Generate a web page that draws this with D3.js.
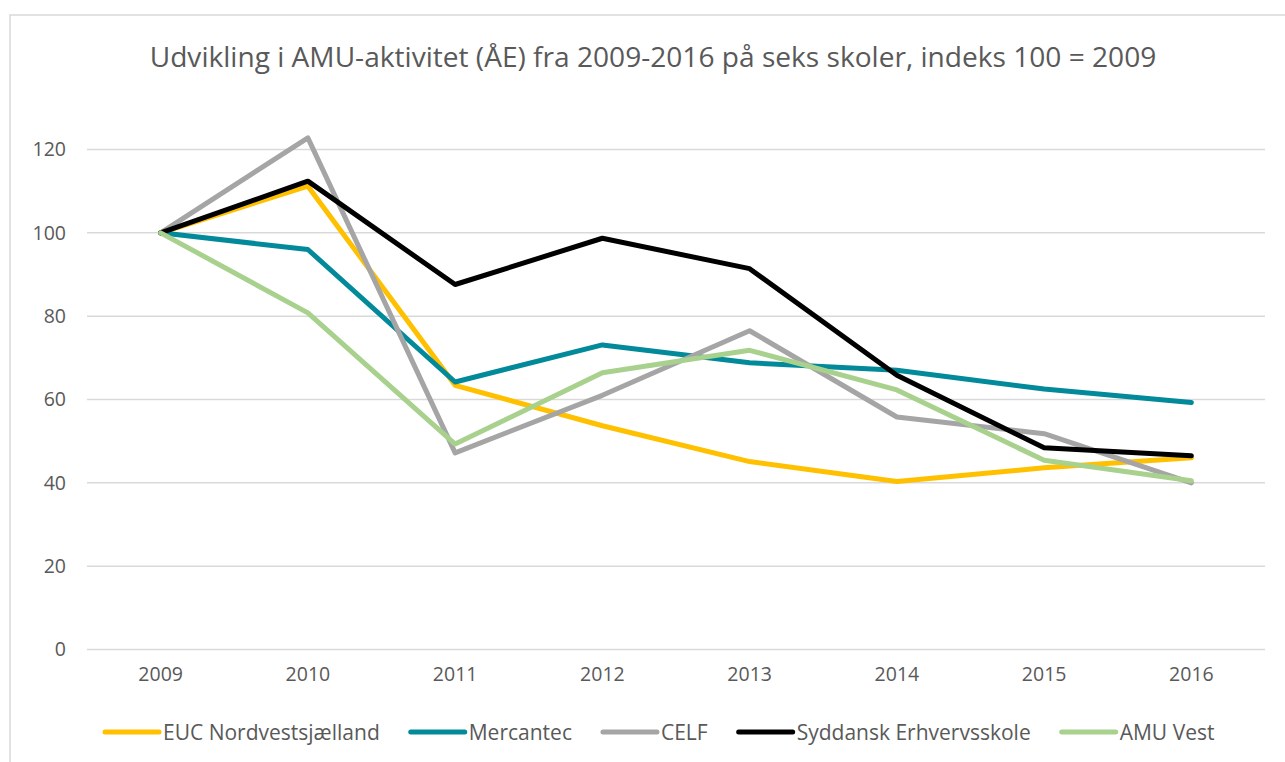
<!DOCTYPE html>
<html>
<head>
<meta charset="utf-8">
<script src="https://cdn.jsdelivr.net/npm/d3@7"></script>
<style>
  body { margin: 0; background: #fff; }
  text { font-family: "Open Sans", "Noto Sans", sans-serif; fill: #595959; }
</style>
</head>
<body>
<div id="chart"></div>
<script>
// data
const years = ["2009", "2010", "2011", "2012", "2013", "2014", "2015", "2016"];
const schools = ["EUC Nordvestsjælland", "Mercantec", "CELF", "Syddansk Erhvervsskole", "AMU Vest"];
const euc = [100, 111.2, 63.4, 53.7, 45.1, 40.3, 43.6, 46.0];
const mercantec = [100, 96.0, 64.2, 73.1, 68.8, 67.0, 62.5, 59.3];
const celf = [100, 122.8, 47.2, 61.0, 76.5, 55.8, 51.8, 40.0];
const syddansk = [100, 112.4, 87.6, 98.7, 91.4, 65.8, 48.4, 46.5];
const amuVest = [100, 80.8, 49.3, 66.4, 71.8, 62.3, 45.4, 40.5];
const yTicks = [0, 20, 40, 60, 80, 100, 120];
const colors = ["#FFC000", "#02899A", "#A5A5A5", "#000000", "#A9D18E"];

const seriesList = [euc, mercantec, celf, syddansk, amuVest];

const W = 1285, H = 762;
const margin = {top: 149.5, right: 20, bottom: 112.5, left: 87};
const width = W - margin.left - margin.right;
const height = H - margin.top - margin.bottom;

const svg = d3.select("#chart").append("svg")
    .attr("width", W)
    .attr("height", H);

// chart border
svg.append("path")
    .attr("d", `M10,${H} L10,15 L${W},15`)
    .attr("fill", "none")
    .attr("stroke", "#d9d9d9")
    .attr("stroke-width", 1.5);

// title
let title = svg.append("text")
    .attr("x", 653)
    .attr("y", 67)
    .attr("text-anchor", "middle")
    .attr("font-size", 24)
    .text("Udvikling i AMU-aktivitet (ÅE) fra 2009-2016 på seks skoler, indeks 100 = 2009");
let tw = title.node().getComputedTextLength();
title.attr("font-size", 24 * 1007 / tw);

const g = svg.append("g")
    .attr("transform", `translate(${margin.left},${margin.top})`);

const x = d3.scaleBand().domain(years).range([0, width]);
const y = d3.scaleLinear().domain([0, 120]).range([height, 0]);

// gridlines
g.selectAll(".grid")
    .data(yTicks)
    .enter().append("line")
    .attr("x1", 0)
    .attr("x2", width)
    .attr("y1", d => y(d))
    .attr("y2", d => y(d))
    .attr("stroke", "#d9d9d9")
    .attr("stroke-width", 1.5);

// y axis labels
let yAxis = g.append("g")
    .call(d3.axisLeft(y).tickValues(yTicks).tickSize(0).tickPadding(21));
yAxis.select(".domain").remove();
yAxis.selectAll("text")
    .attr("font-size", 19.5)
    .attr("fill", "#595959")
    .style("font-family", '"Open Sans", "Noto Sans", sans-serif');

// x axis labels
let xAxis = g.append("g")
    .attr("transform", `translate(0,${height})`)
    .call(d3.axisBottom(x).tickSize(0).tickPadding(18));
xAxis.select(".domain").remove();
xAxis.selectAll("text")
    .attr("font-size", 19.5)
    .attr("fill", "#595959")
    .style("font-family", '"Open Sans", "Noto Sans", sans-serif');

// lines
const line = d3.line()
    .x((d, i) => x(years[i]) + x.bandwidth() / 2)
    .y(d => y(d));

g.selectAll(".series")
    .data(seriesList)
    .enter().append("path")
    .attr("d", d => line(d))
    .attr("fill", "none")
    .attr("stroke", (d, i) => colors[i])
    .attr("stroke-width", 5)
    .attr("stroke-linejoin", "round")
    .attr("stroke-linecap", "round");

// legend: size the text so the row fills the same width as the original
const legend = svg.append("g");
const legendY = 732;
let probe = svg.append("text").attr("font-size", 18);
let textW = schools.map(s => { probe.text(s); return probe.node().getComputedTextLength(); });
probe.remove();
const targetText = 1112 - 5 * 60 - 4 * 29;
const legendFont = 18 * targetText / d3.sum(textW);
let lx = 103;
schools.forEach((name, i) => {
    let item = legend.append("g").attr("transform", `translate(${lx},0)`);
    item.append("line")
        .attr("x1", 2).attr("x2", 56)
        .attr("y1", legendY).attr("y2", legendY)
        .attr("stroke", colors[i])
        .attr("stroke-width", 5)
        .attr("stroke-linecap", "round");
    let t = item.append("text")
        .attr("x", 60)
        .attr("y", legendY + legendFont * 0.36)
        .attr("font-size", legendFont)
        .text(name);
    lx += 60 + t.node().getComputedTextLength() + 29;
});
</script>
</body>
</html>
